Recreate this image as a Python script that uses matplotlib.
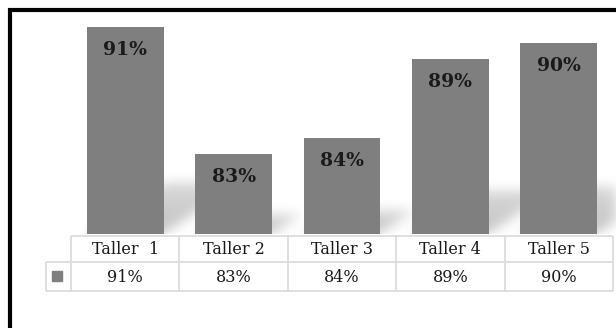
import numpy as np
import matplotlib
matplotlib.use("Agg")
import matplotlib.pyplot as plt
from matplotlib.patches import Rectangle

# datos por taller
talleres = ["Taller  1", "Taller 2", "Taller 3", "Taller 4", "Taller 5"]
valores = [91, 83, 84, 89, 90]
etiquetas = [f"{v}%" for v in valores]

BAR_COLOR = "#7f7f7f"
GRID_COLOR = "#d9d9d9"
TEXT_COLOR = "#1a1a1a"
FONT = "DejaVu Serif"

W, H, DPI = 616, 328, 100
Y_MIN, Y_MAX = 78, 91.8  # axis floor/ceiling of the value axis

# plot area in pixels
LEFT, RIGHT, TOP, BASE = 71, 613, 14, 234
ROW_Y = [236, 262, 291]
KEY_LEFT = 46


def blur(a, sigma):
    """Separable gaussian blur, numpy only."""
    r = int(3 * sigma)
    k = np.exp(-0.5 * (np.arange(-r, r + 1) / sigma) ** 2)
    k /= k.sum()
    a = np.apply_along_axis(lambda m: np.convolve(m, k, mode="same"), 0, a)
    a = np.apply_along_axis(lambda m: np.convolve(m, k, mode="same"), 1, a)
    return a


fig = plt.figure(figsize=(W / DPI, H / DPI), dpi=DPI)
fig.patch.set_facecolor("white")

ax = fig.add_axes([LEFT / W, 1 - BASE / H, (RIGHT - LEFT) / W, (BASE - TOP) / H])
ax.axis("off")

x = np.arange(len(valores))
bar_w = 0.71
ax.bar(x, valores, width=bar_w, color=BAR_COLOR, zorder=3)

# soft perspective shadow behind every bar
px_x = (RIGHT - LEFT) / len(valores)
px_y = (BASE - TOP) / (Y_MAX - Y_MIN)
gx = np.arange(-0.5, len(valores) - 0.5 + 4 / px_x, 1 / px_x)
gy = np.arange(Y_MIN, Y_MIN + 6, 1 / px_y)
XX, YY = np.meshgrid(gx, gy)
alpha = np.zeros_like(XX)
for xi, v in zip(x, valores):
    h = 0.25 * (v - Y_MIN)
    d = 1.5 * h * px_y / px_x
    t = (YY - Y_MIN) / h
    inside = (t >= 0) & (t <= 1) & (XX >= xi - bar_w / 2 + d * t) & (XX <= xi + bar_w / 2 + d * t)
    alpha = np.maximum(alpha, np.where(inside, 0.24 * (1 - 0.35 * t), 0.0))
alpha = blur(alpha, 6)
rgba = np.zeros(alpha.shape + (4,))
rgba[..., 3] = alpha
ax.imshow(rgba, origin="lower", extent=(gx[0], gx[-1], gy[0], gy[-1]),
          aspect="auto", zorder=1, clip_on=False, interpolation="bilinear")
ax.set_xlim(-0.5, len(valores) - 0.5)
ax.set_ylim(Y_MIN, Y_MAX)

for xi, v, lbl in zip(x, valores, etiquetas):
    ax.annotate(lbl, (xi, v), xytext=(0, -23 * 72 / DPI), textcoords="offset points",
                ha="center", va="center", fontsize=13.5, fontweight="bold",
                family=FONT, color=TEXT_COLOR, zorder=4)

# data table and frame, drawn in pixel coordinates
ov = fig.add_axes([0, 0, 1, 1])
ov.set_xlim(0, W)
ov.set_ylim(H, 0)
ov.axis("off")
ov.patch.set_alpha(0)

cols = LEFT + np.arange(len(valores) + 1) * px_x
ov.hlines(ROW_Y[0], LEFT, RIGHT, color=GRID_COLOR, lw=1.2)
ov.hlines(ROW_Y[1:], KEY_LEFT, RIGHT, color=GRID_COLOR, lw=1.2)
ov.vlines(cols, ROW_Y[0], ROW_Y[2], color=GRID_COLOR, lw=1.2)
ov.vlines(KEY_LEFT, ROW_Y[1], ROW_Y[2], color=GRID_COLOR, lw=1.2)

for i, (name, lbl) in enumerate(zip(talleres, etiquetas)):
    cx = (cols[i] + cols[i + 1]) / 2
    ov.text(cx, (ROW_Y[0] + ROW_Y[1]) / 2 + 1, name, ha="center", va="center",
            fontsize=11.5, family=FONT, color=TEXT_COLOR)
    ov.text(cx, (ROW_Y[1] + ROW_Y[2]) / 2 + 1, lbl, ha="center", va="center",
            fontsize=11.5, family=FONT, color=TEXT_COLOR)

ov.add_patch(Rectangle((52, 271), 10, 10, color=BAR_COLOR))

# thick outer border (top and left)
ov.plot([9.5, 9.5, W], [H, 10, 10], color="black", lw=3, solid_joinstyle="miter")

fig.savefig("out.png", dpi=DPI)
